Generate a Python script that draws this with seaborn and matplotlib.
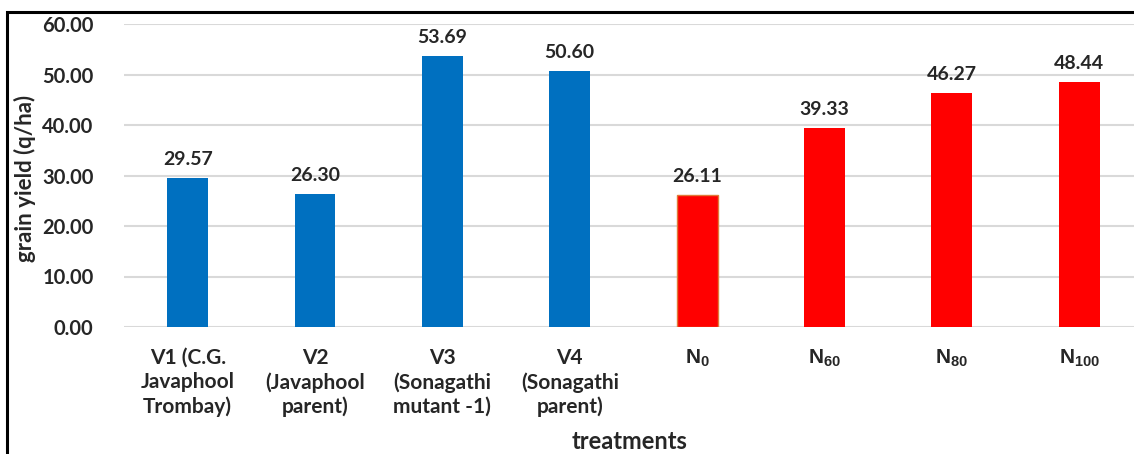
import matplotlib
matplotlib.use("Agg")
import matplotlib.pyplot as plt
from matplotlib.patches import Rectangle
import seaborn as sns
import pandas as pd

# Treatments and grain yield (q/ha)
treatments = [
    "V1 (C.G.\nJavaphool\nTrombay)",
    "V2\n(Javaphool\nparent)",
    "V3\n(Sonagathi\nmutant -1)",
    "V4\n(Sonagathi\nparent)",
    r"$\mathbf{N_{0}}$",
    r"$\mathbf{N_{60}}$",
    r"$\mathbf{N_{80}}$",
    r"$\mathbf{N_{100}}$",
]
grain_yield = [29.57, 26.30, 53.69, 50.60, 26.11, 39.33, 46.27, 48.44]
group = ["variety"] * 4 + ["nitrogen"] * 4
y_ticks = [0, 10, 20, 30, 40, 50, 60]

palette = {"variety": "#0070C0", "nitrogen": "#FF0000"}

sns.set_style("white")
plt.rcParams["font.family"] = ["Lato", "DejaVu Sans"]
plt.rcParams["mathtext.fontset"] = "custom"
plt.rcParams["mathtext.rm"] = "Liberation Sans"
plt.rcParams["mathtext.bf"] = "Liberation Sans:bold"

df = pd.DataFrame({"treatment": treatments, "yield": grain_yield, "group": group})

fig = plt.figure(figsize=(11.34, 4.54), dpi=100)
ax = fig.add_axes([124 / 1134, 1 - 327 / 454, 1 - 124 / 1134, 303 / 454])

sns.barplot(data=df, x="treatment", y="yield", hue="group", palette=palette,
            saturation=1, dodge=False, width=0.32, legend=False, ax=ax, zorder=3)

for i, patch in enumerate(ax.patches[:len(grain_yield)]):
    patch.set_linewidth(0)
# thin outline on the N0 bar
ax.patches[4].set_edgecolor("#E07B39")
ax.patches[4].set_linewidth(1.0)

for i, v in enumerate(grain_yield):
    ax.text(i, v + 2.0, f"{v:.2f}", ha="center", va="bottom",
            fontsize=14, fontweight="bold", color="#262626")

ax.set_ylim(0, 60)
ax.set_xlim(-0.5, 7.43)
ax.set_yticks(y_ticks)
ax.set_yticklabels([f"{t:.2f}" for t in y_ticks])
ax.grid(axis="y", color="#D9D9D9", linewidth=1.5, zorder=0)
ax.set_axisbelow(True)
for s in ax.spines.values():
    s.set_visible(False)
ax.tick_params(axis="y", length=0, pad=22, labelsize=14.5, labelcolor="#262626")
ax.tick_params(axis="x", length=0, pad=15, labelsize=15, labelcolor="#262626")
for lab in ax.get_yticklabels() + ax.get_xticklabels():
    lab.set_fontweight("bold")
    lab.set_linespacing(1.25)

ax.set_xlabel("treatments", fontsize=17, fontweight="bold", color="#262626")
ax.xaxis.set_label_coords(630 / 1010 - 124 / 1010, -(430 - 327) / 303)
ax.set_ylabel("grain yield (q/ha)", fontsize=16, fontweight="bold", color="#262626")
ax.yaxis.set_label_coords(-(124 - 36) / 1010, 0.49)

# Outer frame (left and top edges)
fig.patches.append(Rectangle((7 / 1134, -0.1), 1.2, (1 - 12 / 454) + 0.1,
                             transform=fig.transFigure, fill=False,
                             edgecolor="black", linewidth=2.2))

fig.savefig("out.png", dpi=100)
